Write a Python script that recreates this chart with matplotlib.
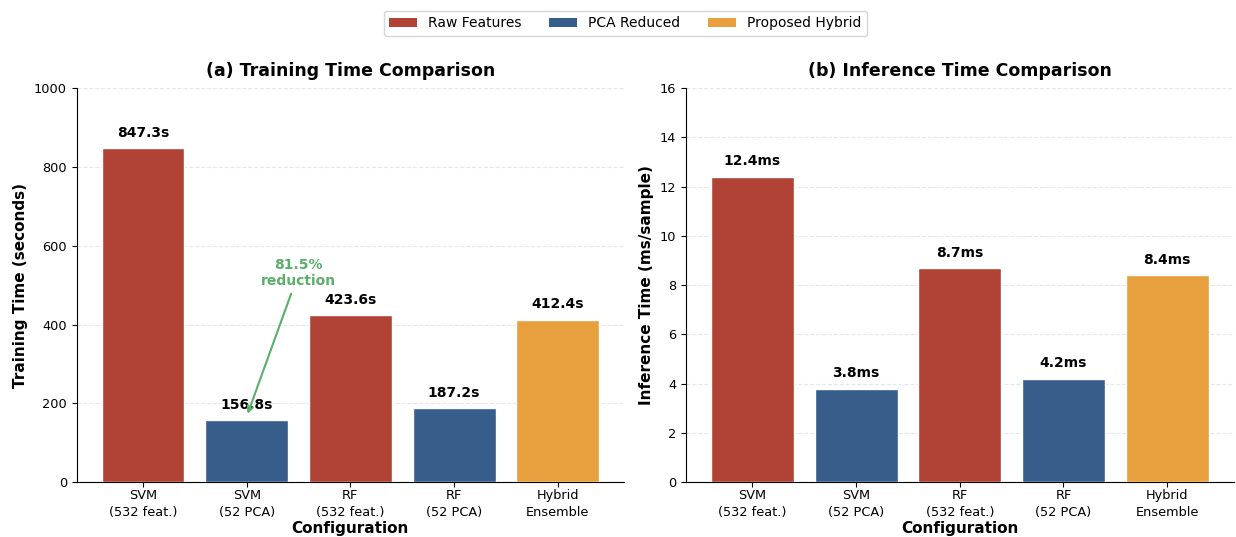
import matplotlib
matplotlib.use("Agg")
import matplotlib.pyplot as plt
from matplotlib.patches import Patch

configs = ["SVM\n(532 feat.)", "SVM\n(52 PCA)", "RF\n(532 feat.)", "RF\n(52 PCA)", "Hybrid\nEnsemble"]
train_time = [847.3, 156.8, 423.6, 187.2, 412.4]
infer_time = [12.4, 3.8, 8.7, 4.2, 8.4]
groups = ["raw", "pca", "raw", "pca", "hybrid"]

palette = {"raw": "#B04236", "pca": "#375E8A", "hybrid": "#E8A03E"}
legend_names = {"raw": "Raw Features", "pca": "PCA Reduced", "hybrid": "Proposed Hybrid"}
bar_colors = [palette[g] for g in groups]

plt.rcParams["font.family"] = "DejaVu Sans"

fig, (ax1, ax2) = plt.subplots(1, 2, figsize=(12.36, 5.37), dpi=100)
fig.subplots_adjust(left=0.062, right=0.998, bottom=0.102, top=0.836, wspace=0.113)

x = list(range(len(configs)))


def draw_panel(ax, values, fmt, title, ylabel, ymax, step):
    bars = ax.bar(x, values, width=0.8, color=bar_colors, edgecolor="white",
                  linewidth=1.0, zorder=3)
    for b, v in zip(bars, values):
        ax.annotate(fmt.format(v), (b.get_x() + b.get_width() / 2, v),
                    xytext=(0, 6), textcoords="offset points",
                    ha="center", va="bottom", fontsize=10, fontweight="bold")
    ax.set_ylim(0, ymax)
    ax.set_yticks(range(0, int(ymax) + 1, step))
    ax.set_xticks(x)
    ax.set_xticklabels(configs, fontsize=9.3, linespacing=1.4)
    ax.tick_params(axis="y", labelsize=9.3)
    ax.tick_params(axis="x", pad=1.5)
    ax.set_title(title, fontsize=12.5, fontweight="bold", pad=9)
    ax.set_ylabel(ylabel, fontsize=11, fontweight="bold")
    ax.set_xlabel("Configuration", fontsize=11, fontweight="bold", labelpad=1)
    ax.grid(axis="y", linestyle="--", alpha=0.3, zorder=0)
    ax.spines["top"].set_visible(False)
    ax.spines["right"].set_visible(False)


draw_panel(ax1, train_time, "{:.1f}s", "(a) Training Time Comparison",
           "Training Time (seconds)", 1000, 200)
draw_panel(ax2, infer_time, "{:.1f}ms", "(b) Inference Time Comparison",
           "Inference Time (ms/sample)", 16, 2)

reduction = (train_time[0] - train_time[1]) / train_time[0] * 100
ax1.annotate(f"{reduction:.1f}%\nreduction", xy=(1, train_time[1] + 10),
             xytext=(1.5, 530), ha="center", va="center",
             fontsize=10, fontweight="bold", color="#5BAE6B",
             arrowprops=dict(arrowstyle="->", color="#5BAE6B", lw=1.5))

handles = [Patch(facecolor=palette[k], label=legend_names[k]) for k in ["raw", "pca", "hybrid"]]
fig.legend(handles=handles, loc="upper center", ncol=3, fontsize=10,
           bbox_to_anchor=(0.506, 0.993), frameon=True, columnspacing=2.0)

fig.savefig("out.png", dpi=100)
